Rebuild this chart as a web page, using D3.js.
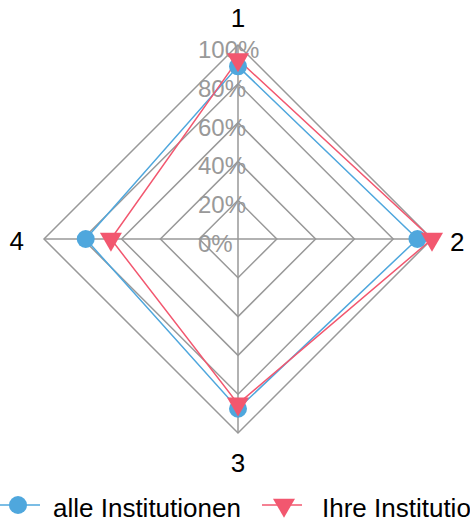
<!DOCTYPE html>
<html>
<head>
<meta charset="utf-8">
<script src="https://cdn.jsdelivr.net/npm/d3@7"></script>
<style>
  body { margin: 0; background: #fff; overflow: hidden; }
  svg { display: block; font-family: "Liberation Sans", Arial, sans-serif; }
</style>
</head>
<body>
<div id="chart"></div>
<script>
// data
const categories = ['1', '2', '3', '4'];
const tickValues = [0, 20, 40, 60, 80, 100];
const seriesNames = ['alle Institutionen', 'Ihre Institutionen'];
const alleValues = [89, 92.5, 87.5, 78.5];
const ihreValues = [92.5, 100, 85, 65.5];

const width = 470,
    height = 526,
    cx = 238,
    cy = 239,
    R = 194;

const blue = '#4fa7dd',
    red = '#f2576f',
    grid = '#999999';

const svg = d3.select('#chart')
    .append('svg')
    .attr('width', width)
    .attr('height', height);

// radial scale and angle per category (clockwise from top)
const r = d3.scaleLinear().domain([0, 100]).range([0, R]);
const angle = d3.scalePoint().domain(categories).range([0, 2 * Math.PI]).padding(0);
const ang = (c) => categories.indexOf(c) * 2 * Math.PI / categories.length;

function pt(c, v) {
    const a = ang(c);
    return [cx + r(v) * Math.sin(a), cy - r(v) * Math.cos(a)];
}

const line = d3.line().curve(d3.curveLinearClosed);

// grid polygons
svg.append('g')
    .selectAll('path')
    .data(tickValues.filter(d => d > 0))
    .enter()
    .append('path')
    .attr('d', d => line(categories.map(c => pt(c, d))))
    .style('fill', 'none')
    .style('stroke', grid)
    .style('stroke-width', 1.5);

// spokes
svg.append('g')
    .selectAll('line')
    .data(categories)
    .enter()
    .append('line')
    .attr('x1', cx)
    .attr('y1', cy)
    .attr('x2', d => pt(d, 100)[0])
    .attr('y2', d => pt(d, 100)[1])
    .style('stroke', grid)
    .style('stroke-width', 1.5);

// tick labels
svg.append('g')
    .selectAll('text')
    .data(tickValues)
    .enter()
    .append('text')
    .attr('x', 198)
    .attr('y', d => cy - r(d) + 13)
    .text(d => d + '%')
    .attr('font-size', '24px')
    .attr('fill', '#999999');

// category labels
const labelOff = [[0, -12], [21, 3], [0, 233 - 0], [-21, 3]];
svg.append('g')
    .selectAll('text')
    .data(categories)
    .enter()
    .append('text')
    .attr('x', (d, i) => {
        const p = pt(d, 100);
        return [p[0], p[0] + 18, p[0], p[0] - 20][i];
    })
    .attr('y', (d, i) => {
        const p = pt(d, 100);
        return [p[1] - 18, p[1] + 12, p[1] + 39, p[1] + 11][i];
    })
    .attr('text-anchor', (d, i) => ['middle', 'start', 'middle', 'end'][i])
    .text(d => d)
    .attr('font-size', '26px')
    .attr('fill', '#000');

// series
const series = [
    { name: seriesNames[0], values: alleValues, color: blue, symbol: d3.symbolCircle, size: 254 },
    { name: seriesNames[1], values: ihreValues, color: red, symbol: d3.symbolTriangle, size: 210 }
];

series.forEach(function (s) {
    const pts = categories.map((c, i) => pt(c, s.values[i]));
    svg.append('path')
        .attr('d', line(pts))
        .style('fill', 'none')
        .style('stroke', s.color)
        .style('stroke-width', 1.5);
});

series.forEach(function (s) {
    const pts = categories.map((c, i) => pt(c, s.values[i]));
    svg.append('g')
        .selectAll('path')
        .data(pts)
        .enter()
        .append('path')
        .attr('d', d3.symbol().type(s.symbol).size(s.size))
        .attr('transform', d => 'translate(' + d[0] + ',' + d[1] + ')' + (s.symbol === d3.symbolTriangle ? ' rotate(180)' : ''))
        .style('fill', s.color);
});

// legend
const legendX = [0, 262];
const lg = svg.append('g');
series.forEach(function (s, i) {
    const x0 = legendX[i];
    lg.append('line')
        .attr('x1', x0)
        .attr('x2', x0 + 40)
        .attr('y1', 505)
        .attr('y2', 505)
        .style('stroke', s.color)
        .style('stroke-width', 1.5);
    lg.append('path')
        .attr('d', d3.symbol().type(s.symbol).size(s.size))
        .attr('transform', 'translate(' + (i === 0 ? 18 : 284) + ',' + 505 + ')' + (i === 1 ? ' rotate(180)' : ''))
        .style('fill', s.color);
    lg.append('text')
        .attr('x', i === 0 ? 53 : 322)
        .attr('y', 517)
        .text(s.name)
        .attr('font-size', '26px')
        .attr('fill', '#000');
});
</script>
</body>
</html>
